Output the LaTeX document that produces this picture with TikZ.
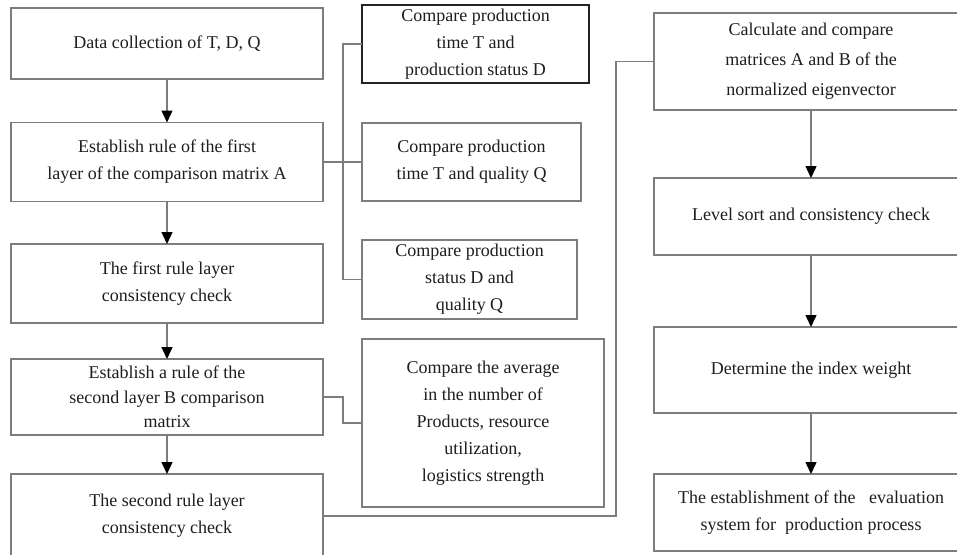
\documentclass[tikz,border=0pt]{standalone}
\usepackage{fontspec}
\setmainfont{Liberation Serif}
\usetikzlibrary{arrows.meta}
\definecolor{bordc}{RGB}{125,125,125}
\definecolor{darkb}{RGB}{35,35,35}
\definecolor{txt}{RGB}{30,30,30}
\begin{document}
\begin{tikzpicture}[x=1pt,y=-1pt,
  box/.style={draw=bordc,line width=1.4pt,fill=white,inner sep=0pt,outer sep=0pt,
              align=center,text=txt,font=\fontsize{18}{27}\selectfont},
  conn/.style={draw=bordc,line width=1.4pt},
  arr/.style={conn,-{Triangle[width=11pt,length=12pt,color=black]}}]
\useasboundingbox (0,0) rectangle (957,554);
\clip (0,0) rectangle (957,554);
\fill[white] (0,0) rectangle (957,554);

% left column
\node[box,minimum width=312pt,minimum height=71pt] (b1) at (167,43.5) {Data collection of T, D, Q};
\node[box,minimum width=312pt,minimum height=79pt] (b2) at (167,162) {Establish rule of the first\\layer of the comparison matrix A};
\node[box,minimum width=312pt,minimum height=79pt] (b3) at (167,283.5) {The first rule layer\\consistency check};
\node[box,minimum width=312pt,minimum height=76pt,font=\fontsize{18}{24.5}\selectfont] (b4) at (167,397) {Establish a rule of the\\second layer B comparison\\matrix};
\node[box,minimum width=312pt,minimum height=84pt] (b5) at (167,516) {The second rule layer\\consistency check};

% middle column
\node[box,draw=darkb,line width=1.8pt,minimum width=227pt,minimum height=78pt] (c1) at (475.5,44) {Compare production\\time T and\\production status D};
\node[box,minimum width=219pt,minimum height=78pt] (c2) at (471.5,162) {Compare production\\time T and quality Q};
\node[box,minimum width=215pt,minimum height=79pt] (c3) at (469.5,279.5) {Compare production\\status D and\\quality Q};
\node[box,minimum width=242pt,minimum height=168pt] (c4) at (483,423) {Compare the average\\in the number of\\Products, resource\\utilization,\\logistics strength};

% right column
\node[box,minimum width=314pt,minimum height=97pt,font=\fontsize{18}{30}\selectfont] (r1) at (811,61.5) {Calculate and compare\\matrices A and B of the\\normalized eigenvector};
\node[box,minimum width=314pt,minimum height=77pt] (r2) at (811,216.5) {Level sort and consistency check};
\node[box,minimum width=314pt,minimum height=86pt] (r3) at (811,370) {Determine the index weight};
\node[box,minimum width=314pt,minimum height=77pt] (r4) at (811,512.5) {The establishment of the \ \ evaluation\\system for \ production process};

% arrows
\draw[arr] (b1) -- (b2);
\draw[arr] (b2) -- (b3);
\draw[arr] (b3) -- (b4);
\draw[arr] (b4) -- (b5);
\draw[arr] (r1) -- (r2);
\draw[arr] (r2) -- (r3);
\draw[arr] (r3) -- (r4);

% connectors
\draw[conn] (b2.east) -- (c2.west);
\draw[conn] (c1.west) -- ++(-19,0) |- (c3.west);
\draw[conn] (b4.east) -- ++(20,0) |- (c4.west);
\draw[conn] (b5.east) -- ++(293,0) |- (r1.west);
\end{tikzpicture}
\end{document}
